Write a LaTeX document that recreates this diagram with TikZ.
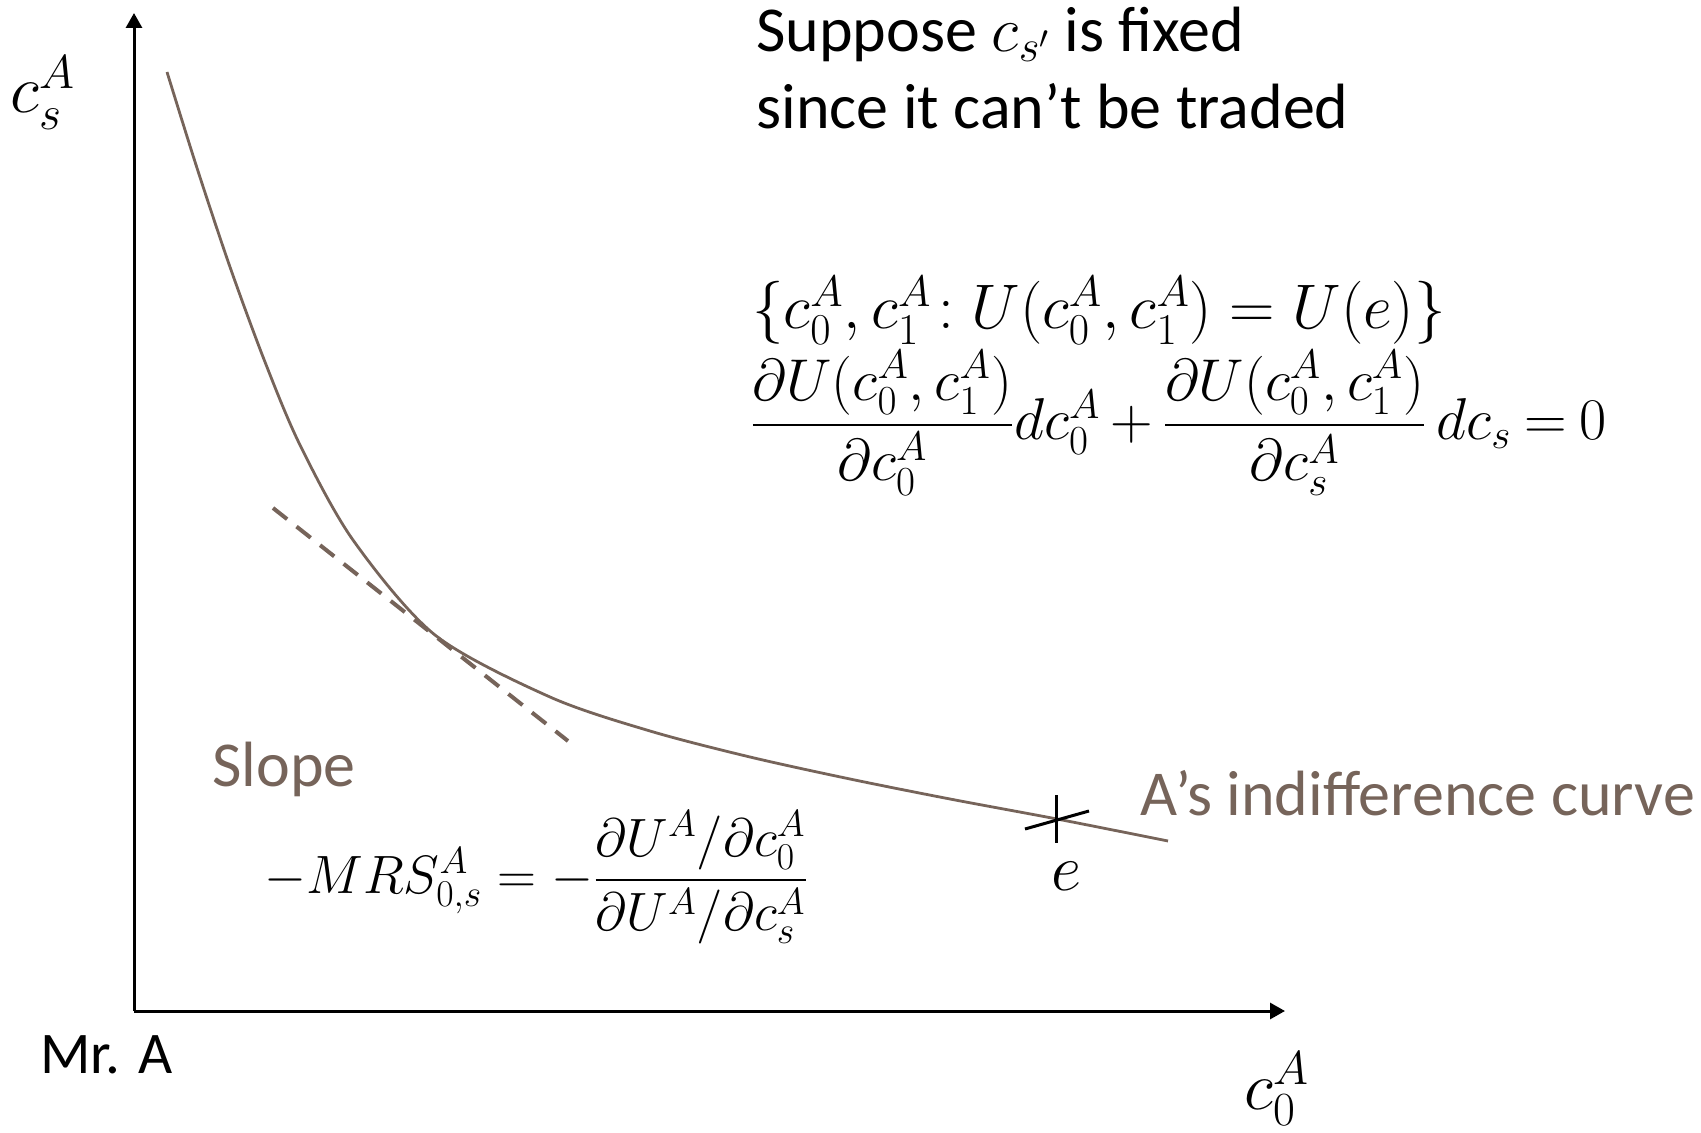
\RequirePackage{fix-cm}
\documentclass[tikz,border=0pt]{standalone}
\usepackage{amsmath}
\usepackage[no-math]{fontspec}
\setmainfont{Carlito}
\usetikzlibrary{arrows.meta}
\definecolor{brn}{RGB}{118,100,90}
\begin{document}
\begin{tikzpicture}[x=0.5pt,y=-0.5pt,
  txt/.style={font=\fontsize{32}{38}\selectfont, inner sep=0pt, text=black},
  btxt/.style={txt, text=brn},
  mtxt/.style={font=\fontsize{#1}{#1}\selectfont, inner sep=0pt, text=black},
  axisline/.style={line width=1.5pt, -{Triangle[length=7.5pt,width=8pt]}},
  icurve/.style={draw=brn, line width=1.4pt},
  tangent/.style={draw=brn, line width=2pt, dash pattern=on 9pt off 6pt},
  crossmark/.style={draw=black, line width=1.5pt}]
\useasboundingbox (0,0) rectangle (1701,1133);

% axes
\coordinate (O) at (134,1011);
\coordinate (ytop) at (134,13);
\coordinate (xend) at (1285,1011);
\draw[axisline] (O) -- (ytop);
\draw[axisline] (O) -- (xend);

% indifference curve
\draw[icurve] plot[smooth, tension=0.5] coordinates {(167,72) (197,168) (230,267) (265,362) (300,445) (353,540) (435,635) (550,697) (650,731) (750,757) (850,779) (950,799) (1057,819) (1168,841)};

% tangent line
\coordinate (t1) at (273,508);
\coordinate (t2) at (568,741);
\draw[tangent] (t1) -- (t2);

% endowment cross
\coordinate (e1) at (1056,795);
\coordinate (e2) at (1056,843);
\coordinate (e3) at (1025,829);
\coordinate (e4) at (1089,811);
\draw[crossmark] (e1) -- (e2);
\draw[crossmark] (e3) -- (e4);

% labels
\node[mtxt=34, anchor=base west] (ylab) at (10,113) {$c_s^A$};
\node[mtxt=34, anchor=base west] (xlab) at (1244,1109) {$c_0^A$};
\node[txt, font=\fontsize{29.5}{35}\selectfont, anchor=base west] (mra) at (40,1073) {Mr. A};
\node[mtxt=33, anchor=base] (elab) at (1066,890) {$e$};
\node[btxt, anchor=base west] (icl) at (1140,815) {A’s indifference curve};
\node[btxt, anchor=base west] (slope) at (212,786) {Slope};

\node[txt, anchor=base west] (sup1) at (756,52) {Suppose $c_{s'}$ is fixed};
\node[txt, anchor=base west] (sup2) at (756,129) {since it can’t be traded};

\node[mtxt=31.5, anchor=base west] (eq1) at (752,329) {$\{c_0^A,c_1^A\!:U(c_0^A,c_1^A)=U(e)\}$};
\node[mtxt=29.5, anchor=base west] (eq2) at (750,440) {$\medmuskip=3mu\thickmuskip=4mu\dfrac{\partial U(c_0^A,c_1^A)}{\partial c_0^A}dc_0^A+\dfrac{\partial U(c_0^A,c_1^A)}{\partial c_s^A}\,dc_s=0$};
\node[mtxt=27, anchor=base west] (mrs) at (264,893) {$-MRS_{0,s}^A=-\dfrac{\partial U^A/\partial c_0^A}{\partial U^A/\partial c_s^A}$};
\end{tikzpicture}
\end{document}
